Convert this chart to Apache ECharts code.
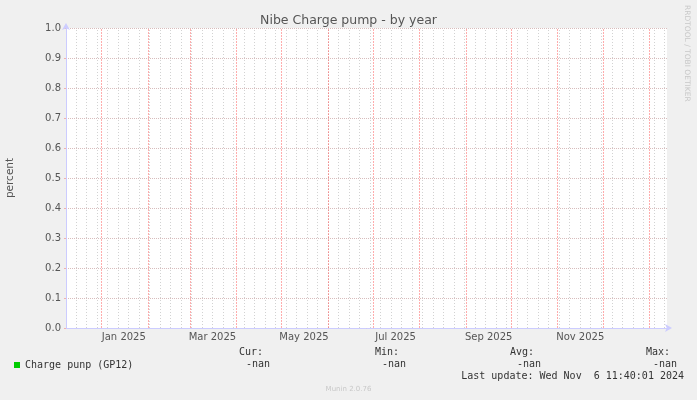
<!DOCTYPE html>
<html>
<head>
<meta charset="utf-8">
<script src="https://cdn.jsdelivr.net/npm/echarts@6/dist/echarts.min.js"></script>
<style>
  html, body { margin: 0; padding: 0; background: #f0f0f0; }
  #main { width: 697px; height: 400px; }
</style>
</head>
<body>
<div id="main"></div>
<script>
var DAY = 86400000;

// time range of the year graph (UTC)
var rangeStart = Date.UTC(2024, 11, 8, 12);
var rangeEnd = Date.UTC(2026, 0, 12, 19);

// month boundaries (red grid) and labelled months
var monthStarts = [
    Date.UTC(2025, 0, 1), Date.UTC(2025, 1, 1), Date.UTC(2025, 2, 1),
    Date.UTC(2025, 3, 1), Date.UTC(2025, 4, 1), Date.UTC(2025, 5, 1),
    Date.UTC(2025, 6, 1), Date.UTC(2025, 7, 1), Date.UTC(2025, 8, 1),
    Date.UTC(2025, 9, 1), Date.UTC(2025, 10, 1), Date.UTC(2025, 11, 1),
    Date.UTC(2026, 0, 1)
];
var monthLabelTimes = [
    Date.UTC(2025, 0, 16), Date.UTC(2025, 2, 16), Date.UTC(2025, 4, 16),
    Date.UTC(2025, 6, 16), Date.UTC(2025, 8, 16), Date.UTC(2025, 10, 16)
];
var monthLabels = ['Jan 2025', 'Mar 2025', 'May 2025', 'Jul 2025', 'Sep 2025', 'Nov 2025'];

// the series has no data at all (-nan)
var chargePump = [];

// legend stats
var statHeaders = ['Cur:', 'Min:', 'Avg:', 'Max:'];
var statValues = ['-nan', '-nan', '-nan', '-nan'];
var lastUpdate = 'Last update: Wed Nov  6 11:40:01 2024';

var statX = [263, 399, 534, 670];

// weekly minor grid, on sundays
var firstSunday = Date.UTC(2024, 11, 15);
var weekLines = [];
for (var w = firstSunday; w < rangeEnd; w += 7 * DAY) {
    weekLines.push({ xAxis: w });
}

var myChart = echarts.init(document.getElementById('main'));

var graphics = [];
for (var i = 0; i < statHeaders.length; i++) {
    graphics.push({
        type: 'text', right: 697 - statX[i], top: 347,
        style: { text: statHeaders[i], font: '10px "DejaVu Sans Mono"', fill: '#333' }
    });
    graphics.push({
        type: 'text', right: 697 - statX[i] - 7, top: 359,
        style: { text: statValues[i], font: '10px "DejaVu Sans Mono"', fill: '#333' }
    });
}
graphics.push({
    type: 'text', right: 13, top: 371,
    style: { text: lastUpdate, font: '10px "DejaVu Sans Mono"', fill: '#333' }
});
graphics.push({
    type: 'text', left: 'center', top: 386,
    style: { text: 'Munin 2.0.76', font: '7px "DejaVu Sans"', fill: '#c8c8c8' }
});
graphics.push({
    type: 'text', x: 691, y: 5, rotation: -Math.PI / 2,
    style: { text: 'RRDTOOL / TOBI OETIKER', font: '7.5px "DejaVu Sans"', fill: '#c8c8c8' }
});

var option = {
    backgroundColor: '#f0f0f0',
    animation: false,
    title: {
        text: 'Nibe Charge pump - by year',
        left: 'center',
        top: 9,
        textStyle: { fontFamily: 'DejaVu Sans', fontSize: 12.5, fontWeight: 'normal', color: '#555' }
    },
    legend: {
        left: 9,
        top: 355,
        icon: 'rect',
        itemWidth: 6,
        itemHeight: 6,
        itemGap: 6,
        data: ['Charge punp (GP12)'],
        textStyle: { fontFamily: 'DejaVu Sans Mono', fontSize: 10, color: '#333' }
    },
    grid: {
        left: 66, right: 30, top: 28, bottom: 72,
        containLabel: false,
        outerBoundsMode: 'none',
        show: true, backgroundColor: '#ffffff', borderWidth: 0
    },
    xAxis: {
        type: 'value',
        min: rangeStart,
        max: rangeEnd,
        axisLine: {
            show: true, symbol: ['none', 'arrow'], symbolSize: [6, 7], symbolOffset: [0, 5],
            lineStyle: { color: '#ccccff', width: 1 }
        },
        axisTick: { show: false },
        axisLabel: {
            customValues: monthLabelTimes,
            margin: 4,
            fontFamily: 'DejaVu Sans',
            fontSize: 10,
            color: '#555',
            formatter: function (v) {
                var k = monthLabelTimes.indexOf(v);
                return k >= 0 ? monthLabels[k] : '';
            }
        },
        splitLine: { show: false }
    },
    yAxis: {
        type: 'value',
        min: 0,
        max: 1,
        interval: 0.1,
        name: 'percent',
        nameLocation: 'middle',
        nameGap: 50,
        nameTextStyle: { fontFamily: 'DejaVu Sans', fontSize: 10.5, color: '#555' },
        axisLine: {
            show: true, symbol: ['none', 'arrow'], symbolSize: [6, 7], symbolOffset: [0, 5],
            lineStyle: { color: '#ccccff', width: 1 }
        },
        axisTick: { show: true, length: 2, lineStyle: { color: '#f0b0b0' } },
        axisLabel: {
            margin: 5,
            fontFamily: 'DejaVu Sans',
            fontSize: 10,
            color: '#555',
            formatter: function (v) { return v.toFixed(1); }
        },
        splitLine: { show: true, lineStyle: { color: '#d8bcbc', type: [1, 1], width: 1 } }
    },
    series: [{
        name: 'weeks',
        type: 'line',
        data: [],
        markLine: {
            silent: true,
            symbol: 'none',
            label: { show: false },
            lineStyle: { color: '#d2d2d2', type: [1, 2], width: 1 },
            data: weekLines
        }
    }, {
        name: 'Charge punp (GP12)',
        type: 'line',
        color: '#00cc00',
        showSymbol: false,
        data: chargePump,
        markLine: {
            silent: true,
            symbol: 'none',
            label: { show: false },
            lineStyle: { color: 'rgba(255,40,40,0.38)', type: [2, 1], width: 1 },
            data: monthStarts.map(function (t) { return { xAxis: t }; })
        }
    }],
    graphic: graphics
};

myChart.setOption(option);
</script>
</body>
</html>
